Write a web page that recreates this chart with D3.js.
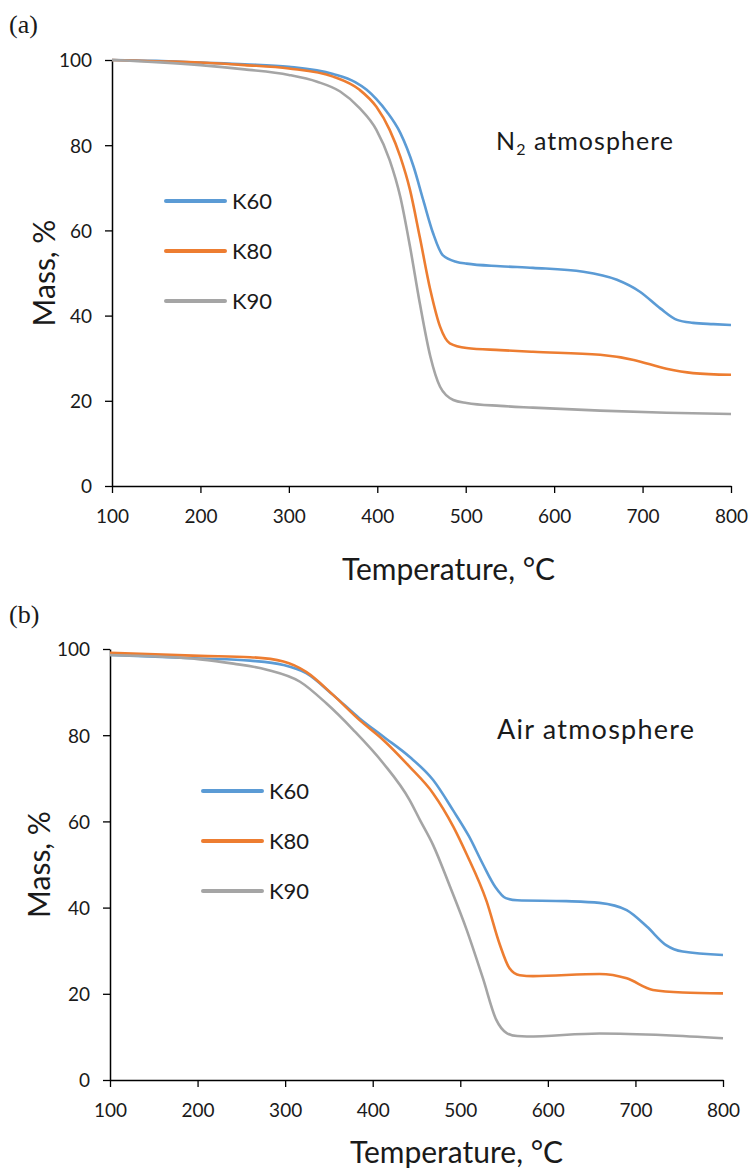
<!DOCTYPE html>
<html>
<head>
<meta charset="utf-8">
<script src="https://cdn.jsdelivr.net/npm/d3@7"></script>
<style>
  body { margin: 0; background: #fff; }
  text { font-family: Lato, "Open Sans", sans-serif; fill: #1a1a1a; }
</style>
</head>
<body>
<div id="chart"></div>
<script>
// TGA curves: [temperature °C, mass %]
var seriesNames = ["K60", "K80", "K90"];
var seriesColors = ["#5B9BD5", "#ED7D31", "#A5A5A5"];
var xTicks = [100, 200, 300, 400, 500, 600, 700, 800];
var yTicks = [0, 20, 40, 60, 80, 100];

// (a) N2 atmosphere
var n2K60 = [[100,100],[150,99.8],[200,99.4],[250,99.0],[300,98.4],[350,96.7],[375,94.8],[388,93],[399,90.8],[411,87.8],[426,82.9],[441,75],[452,67.1],[463,59.4],[474,54.2],[490,52.6],[501,52.2],[539,51.6],[576,51.2],[633,50.3],[671,48.4],[697,45.6],[720,41.7],[739,39],[757,38.3],[780,38.0],[800,37.8]];
var n2K80 = [[100,100],[150,99.7],[200,99.4],[250,98.8],[300,98.0],[350,96.1],[380,93],[399,89],[414,83.6],[426,77.3],[437,69.5],[448,58.5],[460,46],[471,37.4],[482,33.5],[501,32.4],[539,31.9],[576,31.5],[652,30.8],[690,29.6],[727,27.5],[757,26.5],[800,26.1]];
var n2K90 = [[100,100],[150,99.5],[200,98.8],[250,97.8],[300,96.5],[332,94.9],[358,92.6],[380,88.7],[399,83.6],[414,76.5],[426,67.9],[437,56.2],[448,43],[460,30.4],[471,23.3],[486,20.2],[501,19.5],[539,18.8],[576,18.4],[652,17.7],[727,17.2],[800,16.9]];

// (b) air atmosphere
var airK60 = [[100,98.6],[203,97.8],[260,97.3],[298,96.3],[324,94.4],[355,89.3],[385,83.9],[412,79.7],[442,75],[469,69.6],[492,62.5],[510,56.5],[526,50],[540,44.8],[552,42.2],[565,41.7],[621,41.5],[659,41.1],[690,39.4],[713,35.6],[735,31.3],[754,29.8],[800,29]];
var airK80 = [[100,99.1],[203,98.4],[260,98.1],[298,97.1],[324,94.7],[355,89.3],[385,83.5],[412,78.9],[442,72.7],[469,66.5],[492,58.8],[507,52.5],[530,41.5],[545,31.5],[556,26],[568,24.3],[583,24.1],[659,24.6],[690,23.6],[720,20.9],[754,20.3],[800,20.1]];
var airK90 = [[100,98.6],[203,97.6],[241,96.6],[279,95.2],[317,92.4],[347,87.4],[378,81.2],[412,73.5],[442,65],[454,60.3],[469,54.5],[488,45],[507,35],[526,23.5],[541,14],[553,10.9],[565,10.2],[576,10.1],[659,10.8],[735,10.4],[800,9.7]];

var svg = d3.select("#chart")
  .append("svg")
  .attr("width", 750)
  .attr("height", 1175);

var panels = [
  {
    label: "(a)", labelY: 33,
    x0: 112, x1: 731, y0: 486, y1: 60,
    series: [n2K60, n2K80, n2K90],
    note: "N2", noteX: 496, noteY: 150, noteLen: 177,
    legX: 166, legY: 201,
    yTitleX: 45, xTitleDx: 27, xTitleDy: 94
  },
  {
    label: "(b)", labelY: 623,
    x0: 110, x1: 723, y0: 1080, y1: 649,
    series: [airK60, airK80, airK90],
    note: "Air", noteX: 497, noteY: 739, noteLen: 197,
    legX: 203, legY: 791,
    yTitleX: 40, xTitleDx: 40, xTitleDy: 83
  }
];

panels.forEach(function(p) {
  var x = d3.scaleLinear().domain([100, 800]).range([p.x0, p.x1]);
  var y = d3.scaleLinear().domain([0, 100]).range([p.y0, p.y1]);

  svg.append("text")
    .attr("x", 9)
    .attr("y", p.labelY)
    .style("font-family", "'Liberation Serif', serif")
    .style("font-size", "26px")
    .text(p.label);

  // axes
  var xAxis = svg.append("g")
    .attr("transform", `translate(0, ${p.y0})`)
    .call(d3.axisBottom(x).tickValues(xTicks).tickSize(7).tickSizeOuter(0).tickPadding(17));
  var yAxis = svg.append("g")
    .attr("transform", `translate(${p.x0}, 0)`)
    .call(d3.axisLeft(y).tickValues(yTicks).tickSize(7).tickSizeOuter(0).tickPadding(13));

  [xAxis, yAxis].forEach(function(a) {
    a.select(".domain").attr("stroke", "#000").attr("stroke-width", 1.5);
    a.selectAll(".tick line").attr("stroke", "#000").attr("stroke-width", 1.3);
    a.selectAll(".tick text")
      .style("font-family", "Lato, sans-serif")
      .style("font-size", "19px")
      .attr("fill", "#1a1a1a");
  });
  yAxis.selectAll(".tick text").attr("dy", "0.36em");

  // curves
  var line = d3.line()
    .x(d => x(d[0]))
    .y(d => y(d[1]))
    .curve(d3.curveMonotoneX);

  p.series.forEach(function(s, i) {
    svg.append("path")
      .datum(s)
      .attr("fill", "none")
      .attr("stroke", seriesColors[i])
      .attr("stroke-width", 2.6)
      .attr("d", line);
  });

  // legend
  seriesNames.forEach(function(name, i) {
    var ly = p.legY + i * 50;
    svg.append("line")
      .attr("x1", p.legX).attr("x2", p.legX + 59)
      .attr("y1", ly).attr("y2", ly)
      .attr("stroke", seriesColors[i])
      .attr("stroke-width", 4)
      .attr("stroke-linecap", "round");
    svg.append("text")
      .attr("x", p.legX + 66)
      .attr("y", ly + 8)
      .style("font-size", "22px")
      .text(name);
  });

  // atmosphere note
  var note = svg.append("text")
    .attr("x", p.noteX)
    .attr("y", p.noteY)
    .attr("textLength", p.noteLen)
    .attr("lengthAdjust", "spacing");
  if (p.note === "N2") {
    note.style("font-size", "25px");
    note.append("tspan").text("N");
    note.append("tspan").attr("dy", 5).style("font-size", "16px").text("2");
    note.append("tspan").attr("dy", -5).text(" atmosphere");
  } else {
    note.style("font-size", "27px").text("Air atmosphere");
  }

  // axis titles
  svg.append("text")
    .attr("x", (p.x0 + p.x1) / 2 + p.xTitleDx)
    .attr("y", p.y0 + p.xTitleDy)
    .attr("text-anchor", "middle")
    .style("font-size", "30px")
    .text("Temperature, °C");

  svg.append("text")
    .attr("transform", `translate(${p.yTitleX + 10}, ${(p.y0 + p.y1) / 2}) rotate(-90)`)
    .attr("text-anchor", "middle")
    .style("font-size", "30px")
    .text("Mass, %");
});
</script>
</body>
</html>
